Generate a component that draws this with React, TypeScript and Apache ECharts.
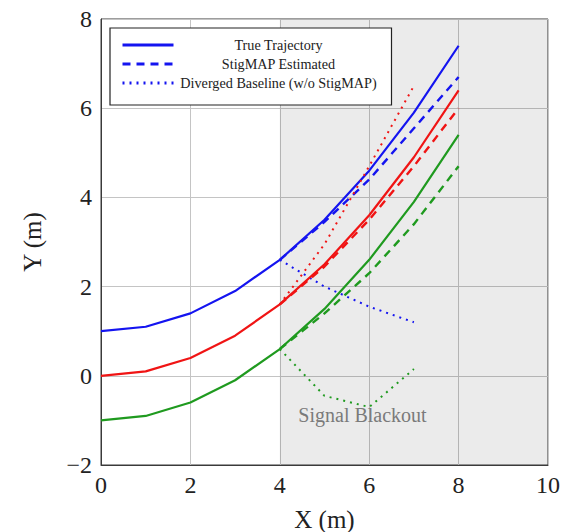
import React, { useEffect, useRef } from "react";
import * as echarts from "echarts";

const xTrue = [0, 1, 2, 3, 4, 5, 6, 7, 8];
const blueTrue = [1.0, 1.1, 1.4, 1.9, 2.6, 3.5, 4.6, 5.9, 7.4];
const redTrue = [0.0, 0.1, 0.4, 0.9, 1.6, 2.5, 3.6, 4.9, 6.4];
const greenTrue = [-1.0, -0.9, -0.6, -0.1, 0.6, 1.5, 2.6, 3.9, 5.4];

const xEst = [4, 5, 6, 7, 8];
const blueEst = [2.6, 3.45, 4.4, 5.55, 6.7];
const redEst = [1.6, 2.45, 3.5, 4.7, 6.0];
const greenEst = [0.6, 1.4, 2.3, 3.4, 4.7];

const xDiv = [4, 5, 6, 7];
const blueDiv = [2.6, 2.0, 1.55, 1.2];
const redDiv = [1.6, 2.95, 4.7, 6.5];
const greenDiv = [0.6, -0.45, -0.7, 0.15];

const xTicks = [0, 2, 4, 6, 8, 10];
const yTicks = [-2, 0, 2, 4, 6, 8];
const blackoutStart = 4;
const blackoutEnd = 10;
const blackoutLabel = { x: 5.85, y: -0.88, text: "Signal Blackout" };

const legendNames = ["True Trajectory", "StigMAP Estimated", "Diverged Baseline (w/o StigMAP)"];

const BLUE = "#1414f0";
const RED = "#f01414";
const GREEN = "#1f9a1f";
const FONT = "'Liberation Serif', 'Times New Roman', serif";

const zip = (xs: number[], ys: number[]) => xs.map((x, i) => [x, ys[i]]);

export default function App() {
  const ref = useRef<HTMLDivElement>(null);
  useEffect(() => {
    if (!ref.current) return;
    const chart = echarts.init(ref.current, undefined, { renderer: "svg" });
    const solid = (color: string) => ({ color, width: 2.2, type: "solid" as const });
    const dashed = (color: string) => ({ color, width: 2.4, type: [8, 6] });
    const dotted = (color: string) => ({ color, width: 2, type: [2, 5] });
    const mk = (name: string, data: number[][], lineStyle: any, color: string, extra: any = {}) => ({
      type: "line",
      name,
      data,
      showSymbol: false,
      symbol: "none",
      color,
      lineStyle,
      ...extra,
    });
    chart.setOption({
      animation: false,
      backgroundColor: "#ffffff",
      grid: {
        left: 101,
        right: 15,
        top: 19,
        bottom: 67,
        outerBoundsMode: "none",
        show: true,
        borderColor: "#3a3a3a",
        borderWidth: 1,
        backgroundColor: "transparent",
      },
      legend: {
        orient: "vertical",
        left: 110,
        top: 28,
        padding: [10, 13, 15, 11],
        itemWidth: 51,
        itemHeight: 14,
        itemGap: 5,
        backgroundColor: "#ffffff",
        borderColor: "#222222",
        borderWidth: 1.2,
        data: legendNames,
        selectedMode: false,
        itemStyle: { opacity: 0 },
        lineStyle: { width: 3 },
        formatter: (n: string) => `{t|${n}}`,
        textStyle: {
          rich: {
            t: {
              width: 200,
              align: "center",
              fontSize: 14.2,
              lineHeight: 15,
              fontFamily: FONT,
              color: "#222222",
            },
          },
        },
      },
      xAxis: {
        type: "value",
        min: xTicks[0],
        max: xTicks[xTicks.length - 1],
        interval: 2,
        name: "X (m)",
        nameLocation: "middle",
        nameGap: 42,
        nameTextStyle: { fontFamily: FONT, fontSize: 25, color: "#222222" },
        axisLine: { show: true, onZero: false, lineStyle: { color: "#3a3a3a", width: 1 } },
        axisTick: { show: false },
        axisLabel: { fontFamily: FONT, fontSize: 24, color: "#222222", margin: 8 },
        splitLine: { show: true, lineStyle: { color: "#c4c4c4", width: 1 } },
      },
      yAxis: {
        type: "value",
        min: yTicks[0],
        max: yTicks[yTicks.length - 1],
        interval: 2,
        name: "Y (m)",
        nameLocation: "middle",
        nameGap: 56,
        nameTextStyle: { fontFamily: FONT, fontSize: 25, color: "#222222" },
        axisLine: { show: true, onZero: false, lineStyle: { color: "#3a3a3a", width: 1 } },
        axisTick: { show: false },
        axisLabel: {
          fontFamily: FONT,
          fontSize: 24,
          color: "#222222",
          margin: 9,
          formatter: (v: number) => String(v).replace("-", "\u2212"),
        },
        splitLine: { show: true, lineStyle: { color: "#c4c4c4", width: 1 } },
      },
      series: [
        mk(legendNames[0], zip(xTrue, blueTrue), solid(BLUE), BLUE, {
          markArea: {
            silent: true,
            itemStyle: { color: "rgba(0,0,0,0.08)" },
            data: [[{ xAxis: blackoutStart }, { xAxis: blackoutEnd }]],
          },
        }),
        mk(legendNames[1], zip(xEst, blueEst), dashed(BLUE), BLUE),
        mk(legendNames[2], zip(xDiv, blueDiv), dotted(BLUE), BLUE, {
          markPoint: {
            silent: true,
            symbol: "circle",
            symbolSize: 0,
            data: [{ coord: [blackoutLabel.x, blackoutLabel.y] }],
            label: {
              show: true,
              position: "inside",
              formatter: blackoutLabel.text,
              fontFamily: FONT,
              fontSize: 20,
              color: "#7a7a7a",
            },
          },
        }),
        mk("True (red)", zip(xTrue, redTrue), solid(RED), RED),
        mk("Estimated (red)", zip(xEst, redEst), dashed(RED), RED),
        mk("Diverged (red)", zip(xDiv, redDiv), dotted(RED), RED),
        mk("True (green)", zip(xTrue, greenTrue), solid(GREEN), GREEN),
        mk("Estimated (green)", zip(xEst, greenEst), dashed(GREEN), GREEN),
        mk("Diverged (green)", zip(xDiv, greenDiv), dotted(GREEN), GREEN),
      ],
    });
    return () => chart.dispose();
  }, []);
  return <div ref={ref} style={{ width: 563, height: 532, position: "absolute", left: 0, top: 0 }} />;
}
